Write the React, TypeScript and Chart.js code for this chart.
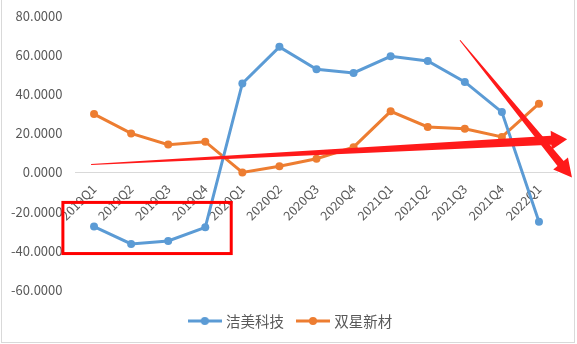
import React, { useEffect, useRef } from 'react';
import { Chart, registerables } from 'chart.js';
Chart.register(...registerables);

const categories = ['2019Q1', '2019Q2', '2019Q3', '2019Q4', '2020Q1', '2020Q2', '2020Q3', '2020Q4', '2021Q1', '2021Q2', '2021Q3', '2021Q4', '2022Q1'];
const seriesNames = ['洁美科技', '双星新材'];
const jiemei = [-27.6, -36.5, -35.0, -28.0, 45.4, 64.1, 52.7, 50.8, 59.3, 56.9, 46.2, 30.8, -25.2];
const shuangxing = [29.8, 19.9, 14.2, 15.7, 0.0, 3.2, 7.0, 12.9, 31.2, 23.2, 22.3, 18.1, 35.1];
const seriesColors = ['#5b9bd5', '#ed7d31'];
const yMin = -60;
const yMax = 80;
const yStep = 20;

// Hand-drawn annotations, in data units: [category index, value]
const highlightBox = [[-0.84, -15.3], [3.7, -41.4]];
const arrowA = [[-0.08, 4.1], [12.76, 16.9]];
const arrowB = [[9.87, 67.5], [12.89, -2.6]];

const FONT = '"Noto Sans CJK SC", "Noto Sans", sans-serif';
const TEXT = '#595959';

function drawArrow(ctx: CanvasRenderingContext2D, x0: number, y0: number, x1: number, y1: number, w0: number, w1: number, headLen: number, headW: number) {
  const dx = x1 - x0, dy = y1 - y0;
  const L = Math.hypot(dx, dy);
  const ux = dx / L, uy = dy / L;
  const nx = -uy, ny = ux;
  const bx = x1 - ux * headLen, by = y1 - uy * headLen;
  ctx.beginPath();
  ctx.moveTo(x0 + nx * w0 / 2, y0 + ny * w0 / 2);
  ctx.lineTo(bx + nx * w1 / 2, by + ny * w1 / 2);
  ctx.lineTo(bx + nx * headW / 2, by + ny * headW / 2);
  ctx.lineTo(x1, y1);
  ctx.lineTo(bx - nx * headW / 2, by - ny * headW / 2);
  ctx.lineTo(bx - nx * w1 / 2, by - ny * w1 / 2);
  ctx.lineTo(x0 - nx * w0 / 2, y0 - ny * w0 / 2);
  ctx.closePath();
  ctx.fill();
}

const annotationPlugin = {
  id: 'redMarks',
  afterDatasetsDraw(chart: any) {
    const { ctx } = chart;
    const xs = chart.scales.x;
    const ys = chart.scales.y;
    const px = (p: number[]) => [xs.getPixelForValue(p[0]), ys.getPixelForValue(p[1])];
    ctx.save();
    const [bx0, by0] = px(highlightBox[0]);
    const [bx1, by1] = px(highlightBox[1]);
    ctx.strokeStyle = '#ff0000';
    ctx.lineWidth = 3;
    ctx.strokeRect(bx0, by0, bx1 - bx0, by1 - by0);
    ctx.fillStyle = '#ff1a1a';
    const [a0x, a0y] = px(arrowA[0]);
    const [a1x, a1y] = px(arrowA[1]);
    drawArrow(ctx, a0x, a0y, a1x, a1y, 1, 9, 16, 19);
    const [b0x, b0y] = px(arrowB[0]);
    const [b1x, b1y] = px(arrowB[1]);
    drawArrow(ctx, b0x, b0y, b1x, b1y, 1, 8, 18, 19);
    ctx.restore();
  },
};

function makeLegendImage(color: string) {
  const c = document.createElement('canvas');
  c.width = 34;
  c.height = 10;
  const g = c.getContext('2d')!;
  g.strokeStyle = color;
  g.lineWidth = 3;
  g.beginPath();
  g.moveTo(0, 5);
  g.lineTo(34, 5);
  g.stroke();
  g.fillStyle = color;
  g.beginPath();
  g.arc(17, 5, 4, 0, Math.PI * 2);
  g.fill();
  return c;
}

export default function App() {
  const ref = useRef<HTMLCanvasElement>(null);
  useEffect(() => {
    const images = seriesColors.map(makeLegendImage);
    const chart = new Chart(ref.current!, {
      type: 'line',
      data: {
        labels: categories,
        datasets: [jiemei, shuangxing].map((d, i) => ({
          label: seriesNames[i],
          data: d,
          borderColor: seriesColors[i],
          backgroundColor: seriesColors[i],
          pointBackgroundColor: seriesColors[i],
          pointBorderWidth: 0,
          pointRadius: 4,
          borderWidth: 3,
          tension: 0,
          fill: false,
        })),
      },
      options: {
        responsive: false,
        animation: false,
        devicePixelRatio: 1,
        layout: { padding: { left: 6, right: 0, top: 15.7, bottom: 5.75 } },
        scales: {
          x: {
            type: 'category',
            position: { y: 0 } as any,
            offset: true,
            grid: { display: false, drawTicks: false },
            border: { display: true, color: '#d9d9d9', width: 1 },
            ticks: { minRotation: 45, maxRotation: 45, autoSkip: false, color: TEXT, font: { family: FONT, size: 12.5 }, padding: 9 },
          },
          y: {
            min: yMin,
            max: yMax,
            grid: { display: true, drawOnChartArea: false, drawTicks: true, tickLength: 10, color: 'rgba(0,0,0,0)' },
            border: { display: false },
            ticks: { stepSize: yStep, color: TEXT, font: { family: FONT, size: 13 }, padding: 3, callback: (v: any) => Number(v).toFixed(4) },
            afterFit: (s: any) => { s.width = 69.5; },
          },
          yRightSpacer: {
            position: 'right',
            display: true,
            grid: { display: false, drawTicks: false },
            border: { display: false },
            ticks: { display: false },
            afterFit: (s: any) => { s.width = 19.5; },
          },
        },
        plugins: {
          tooltip: { enabled: false },
          legend: {
            position: 'bottom',
            title: { display: true, text: '', padding: { top: 0, bottom: 7.55 }, font: { size: 1 } },
            labels: {
              usePointStyle: true,
              pointStyleWidth: 28,
              padding: 15,
              color: TEXT,
              font: { family: FONT, size: 14.5 },
              generateLabels: (c: any) => {
                const items = Chart.defaults.plugins.legend.labels.generateLabels(c);
                return items.map((it: any, i: number) => ({ ...it, pointStyle: images[i], fontColor: TEXT }));
              },
            },
          },
        },
      },
      plugins: [annotationPlugin],
    } as any);
    return () => chart.destroy();
  }, []);
  return (
    <div style={{ position: 'fixed', left: 0, top: 0, width: 577, height: 344, background: '#fff', overflow: 'hidden' }}>
      <canvas ref={ref} width={577} height={344} style={{ position: 'absolute', left: 0, top: 0, width: 577, height: 344 }} />
      <div style={{ position: 'absolute', left: 1, top: -5, width: 574, height: 348, border: '1px solid #d9d9d9', boxSizing: 'border-box', pointerEvents: 'none' }} />
    </div>
  );
}
